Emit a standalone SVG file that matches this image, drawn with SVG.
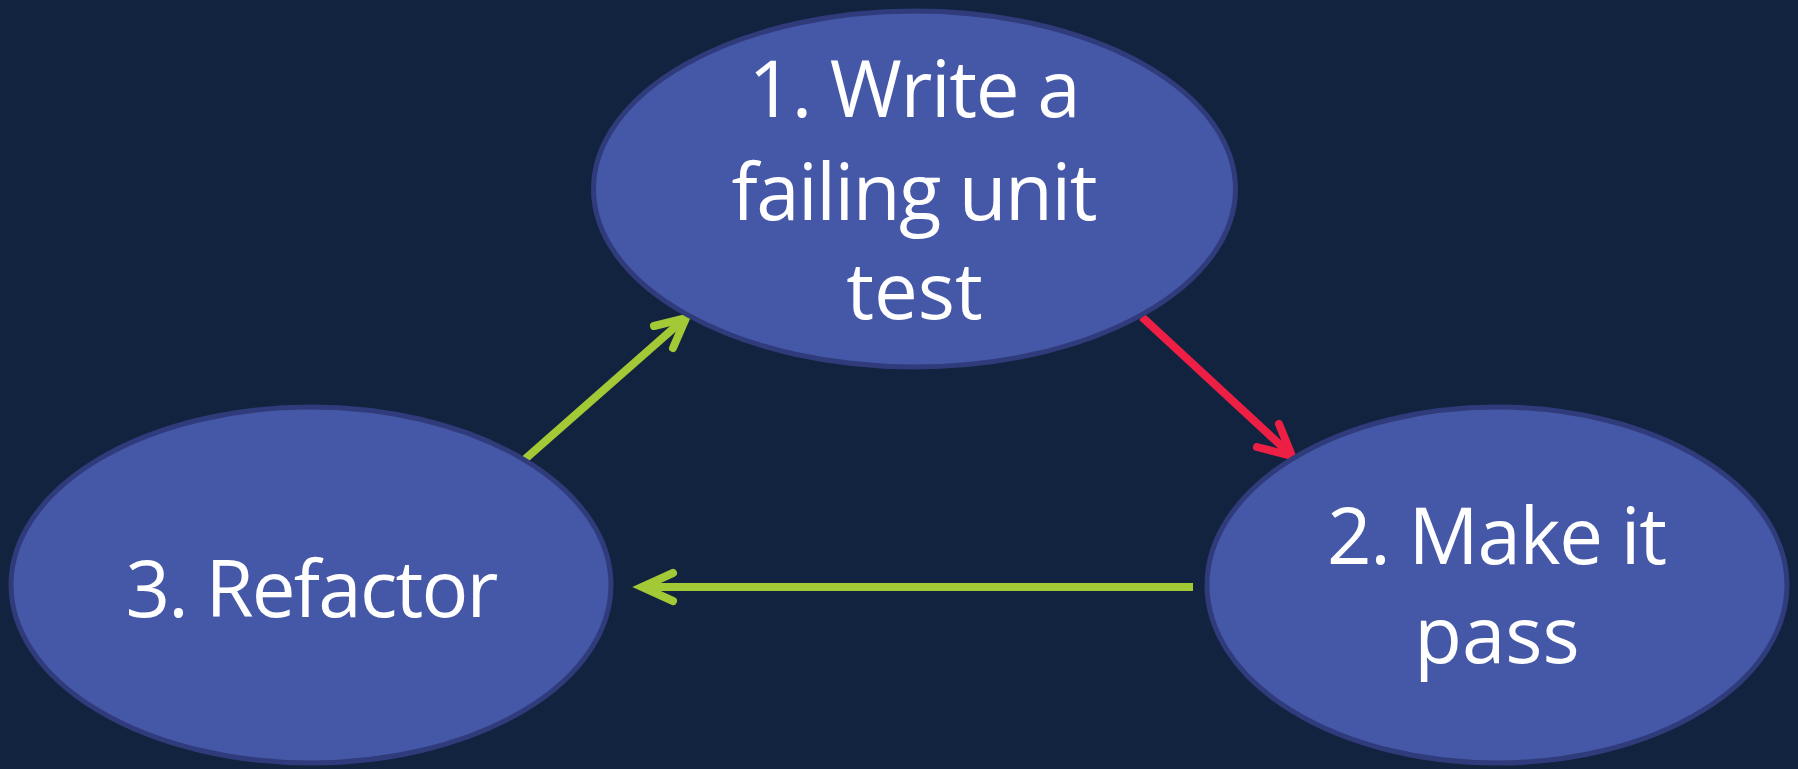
<svg xmlns="http://www.w3.org/2000/svg" width="1798" height="769" viewBox="0 0 1798 769">
<style>
.node{fill:#4557a7;stroke:#2f3b7a;stroke-width:5}
.lbl{fill:#ffffff;font-family:"Open Sans","Noto Sans",sans-serif;font-size:78px;text-anchor:middle}
.ln{fill:none;stroke-width:8}
.head{fill:none;stroke-width:8;stroke-linecap:round;stroke-linejoin:miter}
.g{stroke:#a3c936}
.r{stroke:#ee1f45}
</style>
<rect width="1798" height="769" fill="#12233f"/>
<g id="connectors">
<line class="ln r" x1="1142" y1="317" x2="1288" y2="452"/>
<polyline class="head r" points="1279,424 1292,456 1257,447"/>
<line class="ln g" x1="1193" y1="587" x2="645" y2="587"/>
<polyline class="head g" points="673,573 642,587 673,601"/>
<line class="ln g" x1="524" y1="460" x2="683" y2="320"/>
<polyline class="head g" points="654,326 686,318 673,348"/>
</g>
<g id="node1">
<ellipse class="node" cx="914.5" cy="189" rx="321" ry="178"/>
<text class="lbl" x="914.5" y="117" textLength="332">1. Write a</text>
<text class="lbl" x="914.5" y="220" textLength="366">failing unit</text>
<text class="lbl" x="914.5" y="319">test</text>
</g>
<g id="node2">
<ellipse class="node" cx="1497" cy="585" rx="290" ry="178"/>
<text class="lbl" x="1497" y="564" textLength="340">2. Make it</text>
<text class="lbl" x="1497" y="663">pass</text>
</g>
<g id="node3">
<ellipse class="node" cx="311" cy="585" rx="300" ry="178"/>
<text class="lbl" x="312" y="617" textLength="373">3. Refactor</text>
</g>
</svg>
